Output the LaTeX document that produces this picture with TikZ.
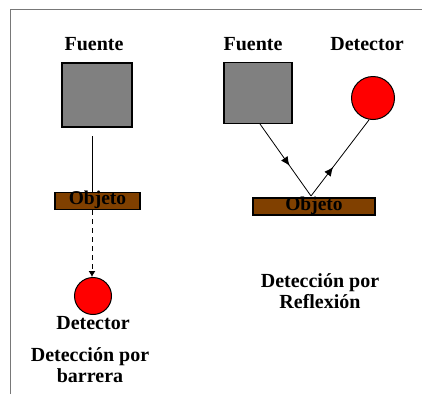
\documentclass[tikz,border=0pt]{standalone}
\usepackage{fontspec}
\setmainfont{Liberation Serif}
\usepackage{tikz}
\usetikzlibrary{arrows.meta,positioning,calc,decorations.markings}
\definecolor{sourcegray}{RGB}{128,128,128}
\definecolor{objbrown}{RGB}{128,64,0}
\definecolor{detred}{RGB}{255,0,0}
\definecolor{framegray}{RGB}{120,120,120}

\tikzset{
    label text/.style={font=\fontsize{20}{21}\selectfont\bfseries, align=center, inner sep=0pt},
    source box/.style={rectangle, draw=black, line width=1.2pt, fill=sourcegray, inner sep=0pt},
    object bar/.style={rectangle, draw=black, line width=1.2pt, fill=objbrown, inner sep=0pt,
        minimum height=17pt, text height=11pt, text depth=4pt,
        font=\fontsize{19.5}{19.5}\selectfont\bfseries},
    detector/.style={circle, draw=black, line width=1pt, fill=detred, inner sep=0pt},
    midarrow/.style={postaction={decorate}, decoration={markings,
        mark=at position #1 with {\arrow{Latex[length=9pt,width=8pt]}}}}
}

\begin{document}
\begin{tikzpicture}[x=1pt, y=-1pt]
    \useasboundingbox (0,0) rectangle (422,394);
    % Frame
    \draw[framegray, line width=1pt] (10,394) -- (10,9) -- (422,9);

    % Barrier detection
    \node[label text] (fuenteL) at (94,44) {Fuente};
    \node[source box, minimum width=70pt, minimum height=64pt] (srcL) at (97,95) {};
    \node[object bar, minimum width=85pt] (objL) at (97.5,201) {Objeto};
    \node[detector, minimum size=37pt] (detL) at (93,296) {};
    \node[label text] (detlabelL) at (93,323) {Detector};
    \node[label text] (captionL) at (90,365) {Detección por\\barrera};
    \coordinate (beamL) at (92,136);

    \draw[line width=1pt] (beamL) -- (beamL |- objL.north);
    \draw[line width=1pt, dashed, dash pattern=on 5pt off 4pt, -{Latex[length=6pt,width=7pt]}]
        (beamL |- objL.south) -- (beamL |- detL.north);

    % Reflection detection
    \node[label text] (fuenteR) at (253,44) {Fuente};
    \node[label text] (detlabelR) at (367,44) {Detector};
    \node[source box, minimum width=68pt, minimum height=61pt] (srcR) at (258,93) {};
    \node[detector, minimum size=43pt] (detR) at (373,98) {};
    \node[object bar, minimum width=122pt] (objR) at (314,206.5) {Objeto};
    \node[label text] (captionR) at (320,291) {Detección por\\Reflexión};
    \coordinate (hit) at (311,196);
    \coordinate (outR) at (260,124);

    \draw[line width=0.8pt, midarrow=0.58] (outR) -- (hit);
    \draw[line width=0.8pt, midarrow=0.38] (hit) -- (detR.260);
\end{tikzpicture}
\end{document}
